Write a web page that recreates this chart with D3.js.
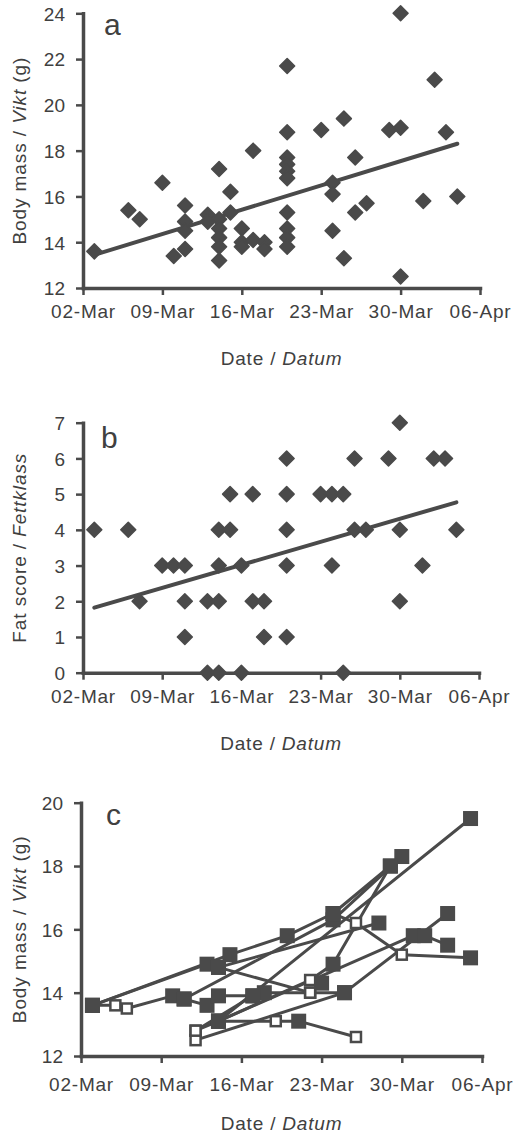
<!DOCTYPE html>
<html>
<head>
<meta charset="utf-8">
<script src="https://cdn.jsdelivr.net/npm/d3@7"></script>
<style>
  body { margin: 0; background: #fff; }
  text { font-family: "Liberation Sans", Arial, sans-serif; fill: #404040; }
</style>
</head>
<body>
<svg id="chart" width="513" height="1136"></svg>
<script>
// shared x axis
const tickDates = ["2021-03-02", "2021-03-09", "2021-03-16", "2021-03-23", "2021-03-30", "2021-04-06"];
const tickLabels = ["02-Mar", "09-Mar", "16-Mar", "23-Mar", "30-Mar", "06-Apr"];

// a - body mass of all birds
const massDates = [
  "2021-03-03", "2021-03-06", "2021-03-07", "2021-03-09", "2021-03-10",
  "2021-03-11", "2021-03-11", "2021-03-11", "2021-03-11",
  "2021-03-13", "2021-03-13",
  "2021-03-14", "2021-03-14", "2021-03-14", "2021-03-14", "2021-03-14", "2021-03-14",
  "2021-03-15", "2021-03-15",
  "2021-03-16", "2021-03-16", "2021-03-16",
  "2021-03-17", "2021-03-17", "2021-03-18", "2021-03-18",
  "2021-03-20", "2021-03-20", "2021-03-20", "2021-03-20", "2021-03-20",
  "2021-03-20", "2021-03-20", "2021-03-20", "2021-03-20", "2021-03-20",
  "2021-03-23", "2021-03-24", "2021-03-24", "2021-03-24",
  "2021-03-25", "2021-03-25", "2021-03-26", "2021-03-26", "2021-03-27",
  "2021-03-29", "2021-03-30", "2021-03-30", "2021-03-30",
  "2021-04-01", "2021-04-02", "2021-04-03", "2021-04-04"
];
const massValues = [
  13.6, 15.4, 15.0, 16.6, 13.4,
  15.6, 14.9, 14.5, 13.7,
  15.2, 14.9,
  17.2, 15.0, 14.6, 14.2, 13.8, 13.2,
  16.2, 15.3,
  14.6, 14.0, 13.8,
  18.0, 14.1, 14.0, 13.7,
  21.7, 18.8, 17.7, 17.4, 17.1,
  16.8, 15.3, 14.6, 14.2, 13.8,
  18.9, 16.6, 16.1, 14.5,
  19.4, 13.3, 17.7, 15.3, 15.7,
  18.9, 24.0, 19.0, 12.5,
  15.8, 21.1, 18.8, 16.0
];
const massTrendDates = ["2021-03-03", "2021-04-04"];
const massTrendValues = [13.45, 18.3];

// b - fat score
const fatDates = [
  "2021-03-03", "2021-03-06", "2021-03-07", "2021-03-09", "2021-03-10",
  "2021-03-11", "2021-03-11", "2021-03-11",
  "2021-03-13", "2021-03-13",
  "2021-03-14", "2021-03-14", "2021-03-14", "2021-03-14",
  "2021-03-15", "2021-03-15", "2021-03-16", "2021-03-16",
  "2021-03-17", "2021-03-17", "2021-03-18", "2021-03-18",
  "2021-03-20", "2021-03-20", "2021-03-20", "2021-03-20", "2021-03-20",
  "2021-03-23", "2021-03-24", "2021-03-24", "2021-03-25", "2021-03-25",
  "2021-03-26", "2021-03-26", "2021-03-27", "2021-03-29",
  "2021-03-30", "2021-03-30", "2021-03-30",
  "2021-04-01", "2021-04-02", "2021-04-03", "2021-04-04"
];
const fatValues = [
  4, 4, 2, 3, 3,
  3, 2, 1,
  2, 0,
  4, 3, 2, 0,
  5, 4, 3, 0,
  5, 2, 2, 1,
  6, 5, 4, 3, 1,
  5, 5, 3, 5, 0,
  6, 4, 4, 6,
  7, 4, 2,
  3, 6, 6, 4
];
const fatTrendDates = ["2021-03-03", "2021-04-04"];
const fatTrendValues = [1.82, 4.77];

// c - recaptured individuals (1 = open square)
const birdDates = [
  ["2021-03-03", "2021-03-15", "2021-03-20", "2021-03-24", "2021-03-29"],
  ["2021-03-03", "2021-03-13", "2021-03-14", "2021-03-28"],
  ["2021-03-03", "2021-03-05", "2021-03-06", "2021-03-10", "2021-03-11", "2021-03-13"],
  ["2021-03-11", "2021-03-24", "2021-03-30"],
  ["2021-03-12", "2021-03-14", "2021-04-05"],
  ["2021-03-14", "2021-03-19", "2021-03-21", "2021-03-26"],
  ["2021-03-14", "2021-03-17", "2021-03-18", "2021-03-22", "2021-03-25", "2021-04-03"],
  ["2021-03-14", "2021-03-22", "2021-03-23"],
  ["2021-03-14", "2021-03-22", "2021-03-24", "2021-03-29"],
  ["2021-03-24", "2021-03-26", "2021-03-30", "2021-04-05"],
  ["2021-03-12", "2021-03-25"],
  ["2021-03-14", "2021-03-31", "2021-04-01", "2021-04-03"],
  ["2021-03-12", "2021-03-17"]
];
const birdMass = [
  [13.6, 15.2, 15.8, 16.5, 18.0],
  [13.6, 14.9, 14.8, 16.2],
  [13.6, 13.6, 13.5, 13.9, 13.8, 13.6],
  [13.8, 16.3, 18.3],
  [12.8, 13.1, 19.5],
  [13.1, 13.1, 13.1, 12.6],
  [13.9, 13.9, 14.0, 14.0, 14.0, 16.5],
  [14.8, 14.0, 14.3],
  [13.1, 14.4, 14.9, 18.0],
  [16.5, 16.2, 15.2, 15.1],
  [12.5, 14.0],
  [13.1, 15.8, 15.8, 15.5],
  [12.8, 13.9]
];
const birdOpen = [
  [0, 0, 0, 0, 0],
  [0, 0, 0, 0],
  [0, 1, 1, 0, 0, 0],
  [0, 0, 0],
  [1, 0, 0],
  [0, 1, 0, 1],
  [0, 0, 0, 1, 0, 0],
  [0, 1, 0],
  [0, 1, 0, 0],
  [0, 1, 1, 0],
  [1, 0],
  [0, 0, 0, 0],
  [1, 0]
];

const parse = d3.utcParse("%Y-%m-%d");
const ink = "#4a4a4a";
const svg = d3.select("#chart");

function panel(p) {
  const x = d3.scaleUtc()
    .domain([parse(tickDates[0]), parse(tickDates[tickDates.length - 1])])
    .range([p.left, p.right]);
  const y = d3.scaleLinear().domain(p.yDomain).range([p.bottom, p.top]);
  const g = svg.append("g");

  // x axis
  const xa = g.append("g").attr("transform", "translate(0," + p.bottom + ")")
    .call(d3.axisBottom(x).tickValues(tickDates.map(parse))
      .tickFormat((d, i) => tickLabels[i]).tickSize(7).tickSizeOuter(0));
  xa.selectAll("text").attr("y", p.xLab).attr("dy", 0)
    .style("font-size", "19px").style("letter-spacing", "0.8px").style("fill", "#404040");

  // y axis
  const ya = g.append("g").attr("transform", "translate(" + p.left + ",0)")
    .call(d3.axisLeft(y).tickValues(p.yTicks).tickFormat(d3.format("d"))
      .tickSize(7).tickPadding(11).tickSizeOuter(0));
  ya.selectAll("text").style("font-size", "19px").attr("dy", "0.36em").style("fill", "#404040");

  g.selectAll(".domain").attr("stroke", ink).attr("stroke-width", 3.5).attr("stroke-linecap", "square");
  g.selectAll(".tick line").attr("stroke", ink).attr("stroke-width", 2.5);

  // titles
  g.append("text").attr("x", (p.left + p.right) / 2).attr("y", p.bottom + p.xTitle)
    .attr("text-anchor", "middle").style("font-size", "19px").style("letter-spacing", "0.8px")
    .call(t => {
      t.append("tspan").text("Date / ");
      t.append("tspan").style("font-style", "italic").text("Datum");
    });
  g.append("text")
    .attr("transform", "translate(26," + (p.top + p.bottom) / 2 + ") rotate(-90)")
    .attr("text-anchor", "middle").style("font-size", "19px").style("letter-spacing", "0.9px")
    .call(t => {
      t.append("tspan").text(p.yTitle[0]);
      t.append("tspan").style("font-style", "italic").text(p.yTitle[1]);
      t.append("tspan").text(p.yTitle[2]);
    });
  g.append("text").attr("x", p.letterX).attr("y", p.letterY)
    .style("font-size", "30px").text(p.letter);

  return { g, x, y };
}

// ---- a
const pa = panel({ left: 83, right: 480, top: 13.3, bottom: 288, yDomain: [12, 24],
  yTicks: [12, 14, 16, 18, 20, 22, 24], xLab: 30, xTitle: 77,
  yTitle: ["Body mass / ", "Vikt", " (g)"], letter: "a", letterX: 104, letterY: 35 });

const line = (sx, sy) => d3.line().x(d => sx(d[0])).y(d => sy(d[1]));

pa.g.append("path")
  .attr("d", line(pa.x, pa.y)(massTrendDates.map((d, i) => [parse(d), massTrendValues[i]])))
  .attr("fill", "none").attr("stroke", ink).attr("stroke-width", 4).attr("stroke-linecap", "round");

const diamond = d3.symbol(d3.symbolSquare, 112);
pa.g.selectAll(".pt").data(massDates.map((d, i) => [parse(d), massValues[i]]))
  .enter().append("path")
  .attr("d", diamond)
  .attr("transform", d => "translate(" + pa.x(d[0]) + "," + pa.y(d[1]) + ") rotate(45)")
  .attr("fill", ink).attr("stroke", ink).attr("stroke-width", 1.5).attr("stroke-linejoin", "round");

// ---- b
const pb = panel({ left: 83, right: 479, top: 422.7, bottom: 672.7, yDomain: [0, 7],
  yTicks: [0, 1, 2, 3, 4, 5, 6, 7], xLab: 30, xTitle: 77,
  yTitle: ["Fat score / ", "Fettklass", ""], letter: "b", letterX: 101, letterY: 448 });

pb.g.append("path")
  .attr("d", line(pb.x, pb.y)(fatTrendDates.map((d, i) => [parse(d), fatTrendValues[i]])))
  .attr("fill", "none").attr("stroke", ink).attr("stroke-width", 4).attr("stroke-linecap", "round");

pb.g.selectAll(".pt").data(fatDates.map((d, i) => [parse(d), fatValues[i]]))
  .enter().append("path")
  .attr("d", diamond)
  .attr("transform", d => "translate(" + pb.x(d[0]) + "," + pb.y(d[1]) + ") rotate(45)")
  .attr("fill", ink).attr("stroke", ink).attr("stroke-width", 1.5).attr("stroke-linejoin", "round");

// ---- c
const pc = panel({ left: 81, right: 482, top: 802.7, bottom: 1056, yDomain: [12, 20],
  yTicks: [12, 14, 16, 18, 20], xLab: 35, xTitle: 74,
  yTitle: ["Body mass / ", "Vikt", " (g)"], letter: "c", letterX: 106, letterY: 825 });

const birds = birdDates.map((ds, b) => ds.map((d, i) => [parse(d), birdMass[b][i], birdOpen[b][i]]));

pc.g.selectAll(".track").data(birds).enter().append("path")
  .attr("d", line(pc.x, pc.y))
  .attr("fill", "none").attr("stroke", ink).attr("stroke-width", 3).attr("stroke-linejoin", "round");

const allPts = birds.flat();
pc.g.selectAll(".open").data(allPts.filter(d => d[2] === 1)).enter().append("rect")
  .attr("x", d => pc.x(d[0]) - 5).attr("y", d => pc.y(d[1]) - 5)
  .attr("width", 10).attr("height", 10)
  .attr("fill", "#fff").attr("stroke", ink).attr("stroke-width", 2.5);

pc.g.selectAll(".filled").data(allPts.filter(d => d[2] === 0)).enter().append("rect")
  .attr("x", d => pc.x(d[0]) - 7.5).attr("y", d => pc.y(d[1]) - 7.5)
  .attr("width", 15).attr("height", 15)
  .attr("fill", ink);
</script>
</body>
</html>
